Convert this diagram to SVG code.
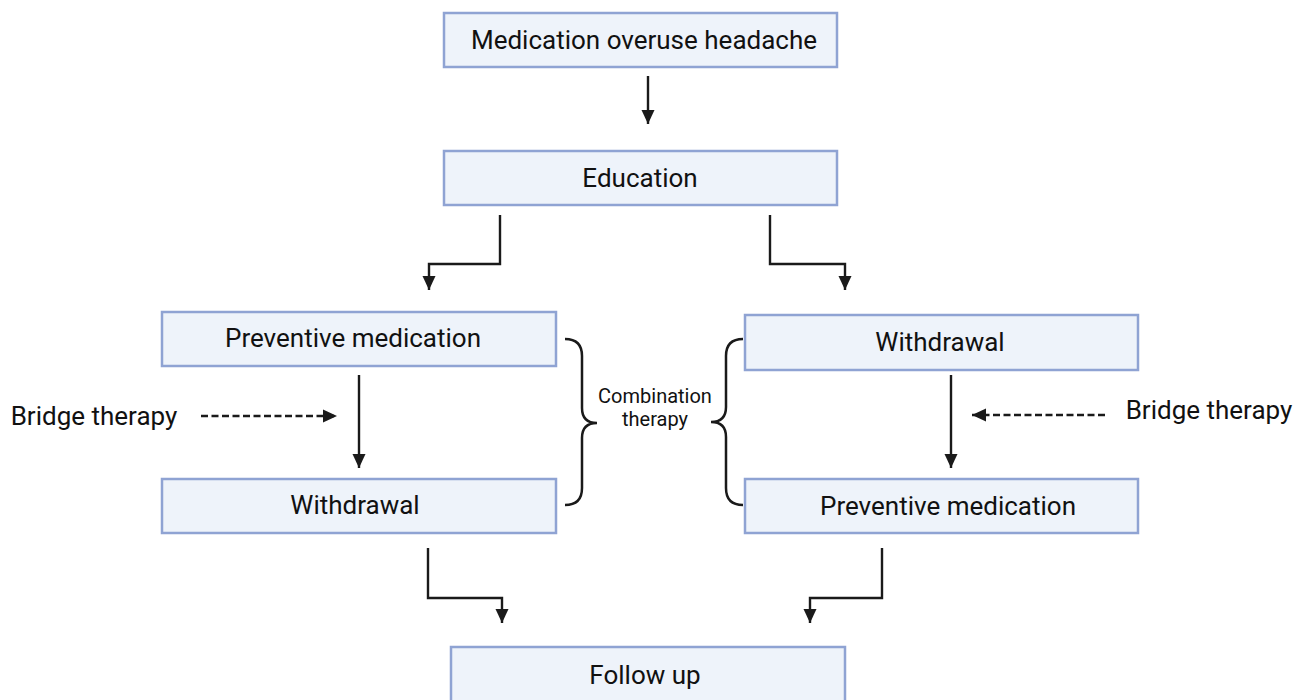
<svg xmlns="http://www.w3.org/2000/svg" width="1294" height="700" viewBox="0 0 1294 700">
<style>
.box{fill:#EEF3FA;stroke:#8FA3D3;stroke-width:2.5}
.t{font-family:Roboto,"Liberation Sans",sans-serif;font-size:26px;fill:#111;text-anchor:middle}
.s{font-family:Roboto,"Liberation Sans",sans-serif;font-size:20px;fill:#111;text-anchor:middle}
.c{fill:none;stroke:#1a1a1a;stroke-width:2.4}
.d{fill:none;stroke:#1a1a1a;stroke-width:2.6;stroke-dasharray:7,3.5}
.b{fill:none;stroke:#1a1a1a;stroke-width:2.5}
</style>
<defs>
<marker id="ah" markerUnits="userSpaceOnUse" markerWidth="16" markerHeight="16" viewBox="0 0 16 16" refX="14" refY="8" orient="auto">
<path d="M0,1.5 L14,8 L0,14.5 Z" fill="#1a1a1a"/>
</marker>
</defs>
<rect width="1294" height="700" fill="#fff"/>
<g id="mohead"><rect class="box" x="444" y="13" width="393" height="54"/><text class="t" x="644" y="49">Medication overuse headache</text></g>
<g id="education"><rect class="box" x="444" y="151" width="393" height="54"/><text class="t" x="640" y="187">Education</text></g>
<g id="prevL"><rect class="box" x="162" y="312" width="394" height="54"/><text class="t" x="353" y="347">Preventive medication</text></g>
<g id="withL"><rect class="box" x="162" y="479" width="394" height="54"/><text class="t" x="355" y="514">Withdrawal</text></g>
<g id="withR"><rect class="box" x="745" y="315" width="393" height="55"/><text class="t" x="940" y="351">Withdrawal</text></g>
<g id="prevR"><rect class="box" x="745" y="479" width="393" height="54"/><text class="t" x="948" y="515">Preventive medication</text></g>
<g id="followup"><rect class="box" x="451" y="647" width="394" height="56"/><text class="t" x="645" y="684">Follow up</text></g>
<g id="bridgeL"><text class="t" x="94" y="425">Bridge therapy</text></g>
<g id="bridgeR"><text class="t" x="1209" y="419">Bridge therapy</text></g>
<g id="combo"><text class="s" x="655" y="403">Combination</text><text class="s" x="655" y="426">therapy</text>
<path class="b" d="M565,339 Q582,339 582,356 L582,408 Q582,423 597,423 Q582,423 582,438 L582,488 Q582,505 565,505"/>
<path class="b" d="M743,339 Q726,339 726,356 L726,407 Q726,422 711,422 Q726,422 726,437 L726,488 Q726,505 743,505"/>
</g>
<g id="connectors">
<path class="c" d="M648,76 V124" marker-end="url(#ah)"/>
<path class="c" d="M500,215 V264 H429 V290" marker-end="url(#ah)"/>
<path class="c" d="M770,215 V264 H845 V290" marker-end="url(#ah)"/>
<path class="c" d="M359,375 V468" marker-end="url(#ah)"/>
<path class="c" d="M951,375 V468" marker-end="url(#ah)"/>
<path class="d" d="M201,416 H337" marker-end="url(#ah)"/>
<path class="d" d="M1105,415 H972" marker-end="url(#ah)"/>
<path class="c" d="M428,548 V598 H502 V623" marker-end="url(#ah)"/>
<path class="c" d="M882,548 V598 H810 V623" marker-end="url(#ah)"/>
</g>
</svg>
